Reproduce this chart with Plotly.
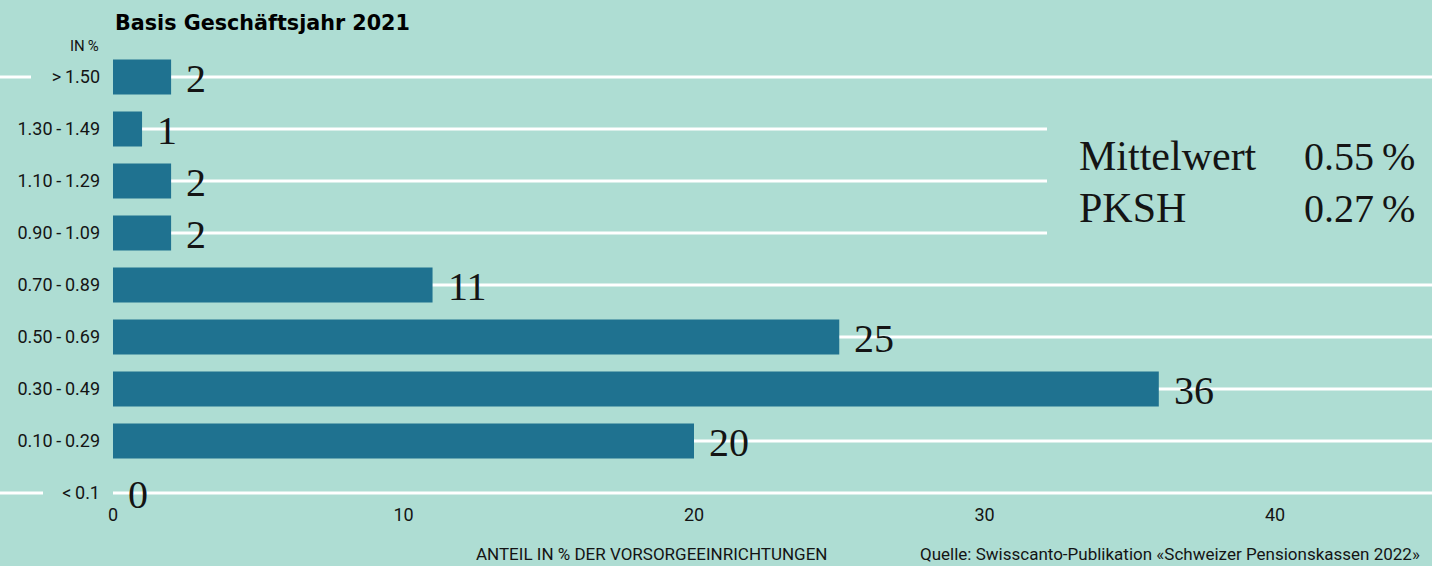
import plotly.graph_objects as go

# ---- data ----
categories = [">\u20091.50", "1.30\u2009-\u20091.49", "1.10\u2009-\u20091.29", "0.90\u2009-\u20091.09",
              "0.70\u2009-\u20090.89", "0.50\u2009-\u20090.69", "0.30\u2009-\u20090.49",
              "0.10\u2009-\u20090.29", "<\u20090.1"]
values = [2, 1, 2, 2, 11, 25, 36, 20, 0]
x_ticks = [0, 10, 20, 30, 40]
stats_labels = ["Mittelwert", "PKSH"]
stats_values = ["0.55\u2009%", "0.27\u2009%"]
short_line_rows = [1, 2, 3]

title_text = "Basis Geschäftsjahr 2021"
unit_text = "IN\u2009%"
x_title = "ANTEIL IN % DER VORSORGEEINRICHTUNGEN"
source_text = "Quelle: Swisscanto-Publikation «Schweizer Pensionskassen 2022»"

# ---- layout constants ----
W, H = 1432, 566
L, R, T = 113, 0, 51
PLOT_BOTTOM = 500
B = H - PLOT_BOTTOM
PW = W - L - R
PH = H - T - B
BG = "#AEDDD3"
BAR = "#1F7290"
TXT = "#141414"
SANS = "Roboto, Liberation Sans, sans-serif"
SERIF = "Liberation Serif, DejaVu Serif, serif"


def px_x(px):
    return (px - L) / PW


def px_y(py):
    return (H - B - py) / PH


n = len(categories)
fig = go.Figure()
fig.add_trace(go.Bar(
    x=values, y=categories, orientation="h",
    marker=dict(color=BAR, line=dict(width=0)),
    hoverinfo="skip",
))

# grid lines
for i in range(n):
    x_end = px_x(1047) if i in short_line_rows else 1
    fig.add_shape(type="line", xref="paper", yref="y", x0=0, x1=x_end, y0=i, y1=i,
                  line=dict(color="white", width=3), layer="below")
fig.add_shape(type="line", xref="paper", yref="y", x0=px_x(0), x1=px_x(31), y0=0, y1=0,
              line=dict(color="white", width=3), layer="below")
fig.add_shape(type="line", xref="paper", yref="y", x0=px_x(0), x1=px_x(43), y0=n - 1, y1=n - 1,
              line=dict(color="white", width=3), layer="below")

# value labels
for c, v in zip(categories, values):
    fig.add_annotation(x=v, y=c, xref="x", yref="y", text=str(v), showarrow=False,
                       xanchor="left", yanchor="middle", xshift=13, yshift=-1,
                       font=dict(family=SERIF, size=40, color=TXT))

# stats box
for k, (lab, val) in enumerate(zip(stats_labels, stats_values)):
    yc = px_y(156 + 52 * k)
    fig.add_annotation(x=px_x(1077), y=yc, xref="paper", yref="paper", text=lab, showarrow=False,
                       xanchor="left", yanchor="middle", font=dict(family=SERIF, size=42, color=TXT))
    fig.add_annotation(x=px_x(1417), y=yc, xref="paper", yref="paper", text=val, showarrow=False,
                       xanchor="right", yanchor="middle", font=dict(family=SERIF, size=40, color=TXT))

# title & texts
fig.add_annotation(x=px_x(113), y=px_y(23), xref="paper", yref="paper", text=title_text,
                   showarrow=False, xanchor="left", yanchor="middle",
                   font=dict(family="DejaVu Sans, Liberation Sans, sans-serif", size=20.7, color="#000",
                             weight="bold"))
fig.add_annotation(x=px_x(101), y=px_y(45.5), xref="paper", yref="paper", text=unit_text,
                   showarrow=False, xanchor="right", yanchor="middle",
                   font=dict(family=SANS, size=15, color=TXT))
fig.add_annotation(x=px_x(474), y=px_y(566), xref="paper", yref="paper", text=x_title,
                   showarrow=False, xanchor="left", yanchor="bottom",
                   font=dict(family=SANS, size=17, color=TXT))
fig.add_annotation(x=px_x(918), y=px_y(566), xref="paper", yref="paper", text=source_text,
                   showarrow=False, xanchor="left", yanchor="bottom",
                   font=dict(family=SANS, size=17, color=TXT))

fig.update_layout(
    width=W, height=H,
    margin=dict(l=L, r=R, t=T, b=B, pad=0),
    paper_bgcolor=BG, plot_bgcolor=BG,
    showlegend=False, bargap=0.327,
    xaxis=dict(range=[0, PW / 29.05], tickvals=x_ticks, ticktext=[str(t) for t in x_ticks],
               showgrid=False, zeroline=False, showline=False, ticks="",
               tickfont=dict(family=SANS, size=18, color=TXT), ticklabelstandoff=2),
    yaxis=dict(type="category", categoryorder="array", categoryarray=categories,
               range=[n - 1 + (PLOT_BOTTOM - 493) / 52, -0.5],
               showgrid=False, zeroline=False, showline=False, ticks="",
               tickfont=dict(family=SANS, size=18, color=TXT), ticklabelstandoff=12),
)

fig.write_html("out.html", config={"displayModeBar": False},
               post_script="document.body.style.margin='0';")
